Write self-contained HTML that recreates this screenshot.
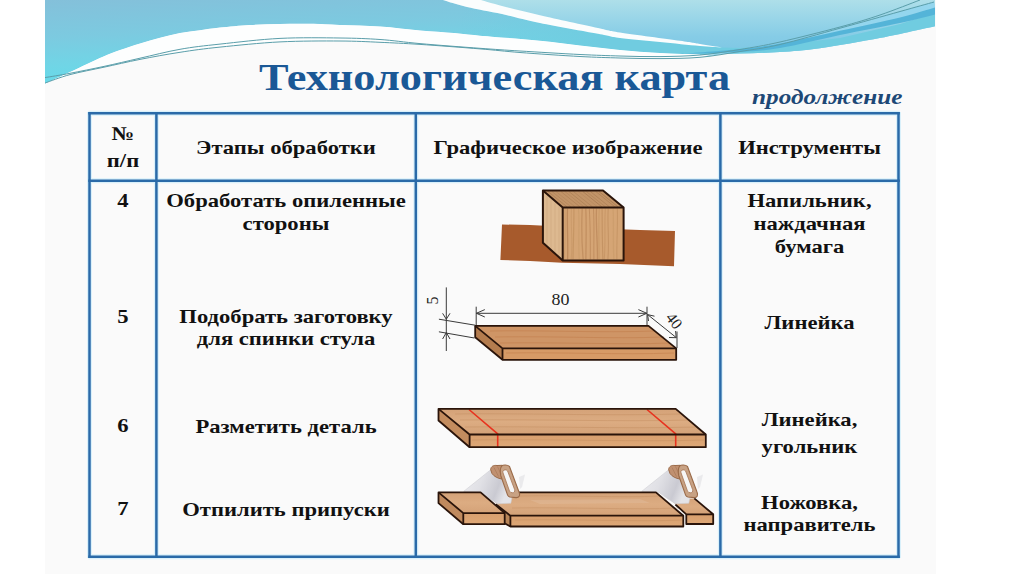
<!DOCTYPE html>
<html><head><meta charset="utf-8">
<style>
html,body{margin:0;padding:0;width:1024px;height:574px;overflow:hidden;background:#fff;}
#slide{position:absolute;left:45px;top:0;width:891px;height:574px;background:#fafafa;}
svg{position:absolute;left:0;top:0;}
.t{position:absolute;font-family:"Liberation Serif",serif;font-weight:bold;font-size:19.5px;line-height:22px;color:#111;text-align:center;white-space:nowrap;transform:scaleX(1.16);transform-origin:50% 0;}
.title{position:absolute;font-family:"Liberation Serif",serif;font-weight:bold;font-size:38.5px;line-height:44px;color:#1a5896;white-space:nowrap;transform:scaleX(1.151);transform-origin:0 0;}
.sub{position:absolute;font-family:"Liberation Serif",serif;font-weight:bold;font-style:italic;font-size:20.5px;line-height:26px;color:#1d4876;white-space:nowrap;transform:scaleX(1.23);transform-origin:0 0;}
</style></head>
<body>
<div id="slide"></div>
<svg width="1024" height="574" viewBox="0 0 1024 574">
  <g id="header">
    <defs>
      <linearGradient id="gA" x1="0" y1="0" x2="0.35" y2="1">
        <stop offset="0" stop-color="#84c0da"/>
        <stop offset="0.4" stop-color="#7ccae0"/>
        <stop offset="0.7" stop-color="#70d5e6"/>
        <stop offset="1" stop-color="#62dcea"/>
      </linearGradient>
      <linearGradient id="gB" gradientUnits="userSpaceOnUse" x1="0" y1="0" x2="0" y2="56">
        <stop offset="0" stop-color="#aedfe9"/>
        <stop offset="0.35" stop-color="#98d5e8"/>
        <stop offset="0.65" stop-color="#86cce6"/>
        <stop offset="1" stop-color="#7cc6e4"/>
      </linearGradient>
      <linearGradient id="gC" gradientUnits="userSpaceOnUse" x1="460" y1="0" x2="600" y2="0">
        <stop offset="0" stop-color="#70cce0" stop-opacity="0"/>
        <stop offset="1" stop-color="#70cce0" stop-opacity="1"/>
      </linearGradient>
    </defs>
    <path fill="url(#gB)" d="M45,0 L935,0 L935,26.2 C926.0,28.1 900.2,34.1 881.0,37.8 C861.8,41.5 836.8,45.8 820.0,48.2 C803.2,50.6 793.3,51.1 780.0,52.0 C766.7,52.9 753.3,53.2 740.0,53.6 C726.7,54.0 713.3,54.5 700.0,54.4 C686.7,54.3 673.3,53.7 660.0,53.0 C646.7,52.3 633.3,51.2 620.0,50.0 C606.7,48.8 593.3,47.0 580.0,45.5 C566.7,44.0 553.2,42.1 540.0,40.8 C526.8,39.4 511.0,38.2 501.0,37.4 C491.0,36.5 487.8,36.4 480.0,35.7 C472.2,35.0 464.0,33.9 454.0,33.0 C444.0,32.1 432.3,31.6 420.0,30.5 C407.7,29.4 393.3,27.3 380.0,26.4 C366.7,25.5 351.7,25.3 340.0,24.9 C328.3,24.5 320.0,24.0 310.0,23.8 C300.0,23.6 290.0,23.7 280.0,23.9 C270.0,24.1 260.0,24.4 250.0,25.0 C240.0,25.6 228.3,26.7 220.0,27.6 C211.7,28.5 206.7,29.3 200.0,30.2 C193.3,31.1 186.7,31.8 180.0,33.1 C173.3,34.4 166.7,36.1 160.0,37.8 C153.3,39.5 146.7,41.5 140.0,43.5 C133.3,45.5 126.0,47.9 120.0,50.0 C114.0,52.1 109.5,53.9 104.0,56.2 C98.5,58.5 92.7,61.4 87.0,64.0 C81.3,66.6 74.8,69.8 70.0,72.0 C65.2,74.2 62.2,75.6 58.0,77.5 C53.8,79.4 47.2,82.5 45.0,83.5 Z"/>
    <path fill="url(#gA)" d="M45,0 L443,0 C447.0,1.2 457.2,4.7 467.0,7.0 C476.8,9.3 489.8,11.4 502.0,14.1 C514.2,16.8 524.0,19.6 540.0,22.9 C556.0,26.2 584.7,31.2 598.0,33.7 C611.3,36.2 609.7,36.6 620.0,38.0 C630.3,39.4 646.7,40.7 660.0,42.0 C673.3,43.3 689.7,45.1 700.0,46.0 C710.3,46.9 718.3,47.2 722.0,47.5 L700,54.4 C693.3,54.2 673.3,53.7 660.0,53.0 C646.7,52.3 633.3,51.2 620.0,50.0 C606.7,48.8 593.3,47.0 580.0,45.5 C566.7,44.0 553.2,42.1 540.0,40.8 C526.8,39.4 511.0,38.2 501.0,37.4 C491.0,36.5 487.8,36.4 480.0,35.7 C472.2,35.0 464.0,33.9 454.0,33.0 C444.0,32.1 432.3,31.6 420.0,30.5 C407.7,29.4 393.3,27.3 380.0,26.4 C366.7,25.5 351.7,25.3 340.0,24.9 C328.3,24.5 320.0,24.0 310.0,23.8 C300.0,23.6 290.0,23.7 280.0,23.9 C270.0,24.1 260.0,24.4 250.0,25.0 C240.0,25.6 228.3,26.7 220.0,27.6 C211.7,28.5 206.7,29.3 200.0,30.2 C193.3,31.1 186.7,31.8 180.0,33.1 C173.3,34.4 166.7,36.1 160.0,37.8 C153.3,39.5 146.7,41.5 140.0,43.5 C133.3,45.5 126.0,47.9 120.0,50.0 C114.0,52.1 109.5,53.9 104.0,56.2 C98.5,58.5 92.7,61.4 87.0,64.0 C81.3,66.6 74.8,69.8 70.0,72.0 C65.2,74.2 62.2,75.6 58.0,77.5 C53.8,79.4 47.2,82.5 45.0,83.5 Z"/>
    <path fill="url(#gC)" d="M467,7 C472.8,8.2 489.8,11.4 502.0,14.1 C514.2,16.8 524.0,19.6 540.0,22.9 C556.0,26.2 584.7,31.2 598.0,33.7 C611.3,36.2 609.7,36.6 620.0,38.0 C630.3,39.4 646.7,40.7 660.0,42.0 C673.3,43.3 689.7,45.1 700.0,46.0 C710.3,46.9 718.3,47.2 722.0,47.5 L740,48 L780,45 L840,38 L900,24 L935,13 L935,26.2 C926.0,28.1 900.2,34.1 881.0,37.8 C861.8,41.5 836.8,45.8 820.0,48.2 C803.2,50.6 793.3,51.1 780.0,52.0 C766.7,52.9 753.3,53.2 740.0,53.6 C726.7,54.0 713.3,54.5 700.0,54.4 C686.7,54.3 673.3,53.7 660.0,53.0 C646.7,52.3 633.3,51.2 620.0,50.0 C606.7,48.8 593.3,47.0 580.0,45.5 C566.7,44.0 553.2,42.1 540.0,40.8 C526.8,39.4 511.0,38.2 501.0,37.4 C491.0,36.5 487.8,36.4 480.0,35.7 C472.2,35.0 458.3,33.5 454.0,33.0 Z"/>
    <path fill="#94d6ee" d="M700.0,57.3 C706.7,56.3 726.7,53.6 740.0,51.5 C753.3,49.4 763.3,48.4 780.0,44.5 C796.7,40.6 820.0,33.7 840.0,28.2 C860.0,22.7 884.3,15.9 900.0,11.5 C915.7,7.1 928.3,3.6 934.0,2.0 L935,7.5 C929.2,9.2 915.8,13.5 900.0,17.4 C884.2,21.3 860.0,26.3 840.0,30.7 C820.0,35.0 796.7,40.5 780.0,43.5 C763.3,46.5 753.3,46.7 740.0,49.0 C726.7,51.3 706.7,55.9 700.0,57.3 Z"/>
    <path fill="#54b4d8" d="M680.0,54.0 C690.0,53.2 723.3,50.8 740.0,49.0 C756.7,47.2 763.3,46.5 780.0,43.5 C796.7,40.5 820.0,35.0 840.0,30.7 C860.0,26.3 884.2,21.3 900.0,17.4 C915.8,13.5 929.2,9.2 935.0,7.5 L935,14.5 C929.2,15.9 915.8,19.6 900.0,23.0 C884.2,26.4 860.0,30.8 840.0,35.0 C820.0,39.2 796.7,45.2 780.0,48.0 C763.3,50.8 756.7,51.0 740.0,52.0 C723.3,53.0 690.0,53.7 680.0,54.0 Z"/>
    <path fill="#fbfdfd" d="M481.0,0.0 C484.5,1.0 492.2,3.4 502.0,5.9 C511.8,8.4 524.0,11.5 540.0,15.2 C556.0,18.9 584.7,25.1 598.0,28.0 C611.3,30.9 606.3,30.4 620.0,32.5 C633.7,34.6 666.7,38.9 680.0,40.8 C693.3,42.7 693.0,42.9 700.0,44.0 C707.0,45.1 718.3,46.9 722.0,47.5 L722,47.5 C718.3,47.2 710.3,46.9 700.0,46.0 C689.7,45.1 673.3,43.3 660.0,42.0 C646.7,40.7 630.3,39.4 620.0,38.0 C609.7,36.6 611.3,36.2 598.0,33.7 C584.7,31.2 556.0,26.2 540.0,22.9 C524.0,19.6 514.2,16.8 502.0,14.1 C489.8,11.4 476.8,9.3 467.0,7.0 C457.2,4.7 447.0,1.2 443.0,0.0 Z"/>
    <path fill="#fdfefe" d="M45.0,83.5 C47.2,82.5 53.8,79.4 58.0,77.5 C62.2,75.6 65.2,74.2 70.0,72.0 C74.8,69.8 81.3,66.6 87.0,64.0 C92.7,61.4 98.5,58.5 104.0,56.2 C109.5,53.9 114.0,52.1 120.0,50.0 C126.0,47.9 133.3,45.5 140.0,43.5 C146.7,41.5 153.3,39.5 160.0,37.8 C166.7,36.1 173.3,34.4 180.0,33.1 C186.7,31.8 193.3,31.1 200.0,30.2 C206.7,29.3 211.7,28.5 220.0,27.6 C228.3,26.7 240.0,25.6 250.0,25.0 C260.0,24.4 270.0,24.1 280.0,23.9 C290.0,23.7 300.0,23.6 310.0,23.8 C320.0,24.0 328.3,24.5 340.0,24.9 C351.7,25.3 366.7,25.5 380.0,26.4 C393.3,27.3 407.7,29.4 420.0,30.5 C432.3,31.6 444.0,32.1 454.0,33.0 C464.0,33.9 472.2,35.0 480.0,35.7 C487.8,36.4 491.0,36.5 501.0,37.4 C511.0,38.2 526.8,39.4 540.0,40.8 C553.2,42.1 566.7,44.0 580.0,45.5 C593.3,47.0 606.7,48.8 620.0,50.0 C633.3,51.2 646.7,52.3 660.0,53.0 C673.3,53.7 693.3,54.2 700.0,54.4 L700,58 C693.3,57.5 673.3,58.5 660.0,58.6 C646.7,58.7 633.3,58.4 620.0,58.0 C606.7,57.6 596.7,57.4 580.0,56.5 C563.3,55.6 536.7,53.8 520.0,52.5 C503.3,51.2 496.7,50.2 480.0,48.9 C463.3,47.5 436.7,45.5 420.0,44.4 C403.3,43.3 393.3,42.9 380.0,42.3 C366.7,41.7 356.7,41.1 340.0,41.0 C323.3,40.9 300.0,40.9 280.0,41.9 C260.0,42.9 236.7,45.4 220.0,47.1 C203.3,48.8 193.3,50.2 180.0,52.3 C166.7,54.3 152.7,56.9 140.0,59.4 C127.3,61.9 115.7,64.7 104.0,67.2 C92.3,69.7 79.8,72.0 70.0,74.6 C60.2,77.2 49.2,81.6 45.0,83.0 Z"/>
    <g fill="none" stroke="#5a9eaa" stroke-width="1">
      <path d="M45.0,77.6 C49.2,76.9 60.2,75.2 70.0,73.3 C79.8,71.4 92.3,68.9 104.0,66.4 C115.7,63.9 127.3,61.1 140.0,58.2 C152.7,55.4 166.7,51.6 180.0,49.3 C193.3,46.9 203.3,45.9 220.0,44.1 C236.7,42.3 260.0,39.4 280.0,38.4 C300.0,37.4 323.3,37.8 340.0,38.0 C356.7,38.2 366.7,38.6 380.0,39.5 C393.3,40.4 403.3,42.1 420.0,43.6 C436.7,45.1 463.3,47.1 480.0,48.3 C496.7,49.5 503.3,50.0 520.0,51.0 C536.7,52.0 563.3,53.7 580.0,54.5 C596.7,55.3 606.7,55.6 620.0,56.0 C633.3,56.4 646.7,56.8 660.0,56.6 C673.3,56.4 686.7,56.2 700.0,55.0 C713.3,53.8 726.7,51.7 740.0,49.5 C753.3,47.3 763.3,45.8 780.0,42.0 C796.7,38.2 823.3,31.5 840.0,27.0 C856.7,22.5 866.7,19.5 880.0,15.0 C893.3,10.5 913.3,2.5 920.0,0.0"/>
      <path d="M45.0,83.0 C49.2,81.6 60.2,77.2 70.0,74.6 C79.8,72.0 92.3,69.7 104.0,67.2 C115.7,64.7 127.3,61.9 140.0,59.4 C152.7,56.9 166.7,54.3 180.0,52.3 C193.3,50.2 203.3,48.8 220.0,47.1 C236.7,45.4 260.0,42.9 280.0,41.9 C300.0,40.9 323.3,40.9 340.0,41.0 C356.7,41.1 366.7,41.7 380.0,42.3 C393.3,42.9 403.3,43.3 420.0,44.4 C436.7,45.5 463.3,47.5 480.0,48.9 C496.7,50.2 503.3,51.2 520.0,52.5 C536.7,53.8 563.3,55.6 580.0,56.5 C596.7,57.4 606.7,57.6 620.0,58.0 C633.3,58.4 646.7,58.7 660.0,58.6 C673.3,58.5 686.7,58.5 700.0,57.3 C713.3,56.1 726.7,53.6 740.0,51.5 C753.3,49.4 763.3,48.4 780.0,44.5 C796.7,40.6 820.0,33.7 840.0,28.2 C860.0,22.7 884.3,15.9 900.0,11.5 C915.7,7.1 928.3,3.6 934.0,2.0"/>
    </g>
  </g>
  <g id="halo" stroke="#d6f0fa" stroke-width="5" fill="none" opacity="0.9">
    <line x1="88.3" y1="113.3" x2="899.8" y2="113.3"/>
    <line x1="88.3" y1="556.8" x2="899.8" y2="556.8"/>
    <line x1="89.5" y1="112" x2="89.5" y2="558"/>
    <line x1="898.5" y1="112" x2="898.5" y2="558"/>
    <line x1="156.4" y1="112" x2="156.4" y2="558"/>
    <line x1="415.8" y1="112" x2="415.8" y2="558"/>
    <line x1="720.4" y1="112" x2="720.4" y2="558"/>
    <line x1="88.3" y1="180.7" x2="899.8" y2="180.7"/>
  </g>
  <g id="table" stroke="#2a6aa8" stroke-width="2.5" fill="none">
    <line x1="88.3" y1="113.3" x2="899.8" y2="113.3"/>
    <line x1="88.3" y1="556.8" x2="899.8" y2="556.8"/>
    <line x1="89.5" y1="112" x2="89.5" y2="558"/>
    <line x1="898.5" y1="112" x2="898.5" y2="558"/>
    <line x1="156.4" y1="112" x2="156.4" y2="558"/>
    <line x1="415.8" y1="112" x2="415.8" y2="558"/>
    <line x1="720.4" y1="112" x2="720.4" y2="558"/>
    <line x1="88.3" y1="180.7" x2="899.8" y2="180.7"/>
  </g>
  <g id="pics">
    <defs>
      <linearGradient id="wTop" x1="0" y1="0" x2="0" y2="1">
        <stop offset="0" stop-color="#d4a278"/><stop offset="0.5" stop-color="#dcac82"/><stop offset="1" stop-color="#d4a278"/>
      </linearGradient>
      <linearGradient id="wFront" x1="0" y1="0" x2="0" y2="1">
        <stop offset="0" stop-color="#d89f6e"/><stop offset="1" stop-color="#dea877"/>
      </linearGradient>
      <linearGradient id="cubeF" x1="0" y1="0" x2="1" y2="0">
        <stop offset="0" stop-color="#d6ad7e"/><stop offset="0.3" stop-color="#e0b98a"/><stop offset="0.6" stop-color="#d0a676"/><stop offset="1" stop-color="#dcb485"/>
      </linearGradient>
      <linearGradient id="blade" x1="0" y1="0" x2="1" y2="0.3">
        <stop offset="0" stop-color="#ededf0"/><stop offset="0.45" stop-color="#e0e0e5"/><stop offset="0.8" stop-color="#cacad2"/><stop offset="1" stop-color="#e4e4e8"/>
      </linearGradient>
    </defs>
    <!-- Row 4: cube on strip -->
    <path fill="#a75a2c" d="M502,224.5 L530,225 L560,226.5 L600,228.5 L640,230 L675,231 L674,266.3 L620,264 L562,262.7 L530,261 L500.4,260 Z"/>
    
    <path fill="#c29468" d="M542.9,190.4 L603,190.4 L623.6,207.6 L562.7,207.6 Z"/>
    <path fill="#ddb990" d="M542.9,190.4 L562.7,207.6 L562.7,260.5 L542.9,242.8 Z"/>
    <rect x="562.7" y="207.6" width="60.9" height="52.9" fill="#d5a575"/>
    <g fill="none">
      <path stroke="#c0905e" stroke-width="0.8" opacity="0.58" d="M565.0,208.5 C565.2,225 565.4,240 564.1,259.5"/><path stroke="#b07c4e" stroke-width="1.3" opacity="0.64" d="M567.5,208.5 C566.9,225 568.2,240 567.6,259.5"/><path stroke="#c0905e" stroke-width="0.9" opacity="0.53" d="M571.4,208.5 C570.7,225 572.7,240 571.2,259.5"/><path stroke="#c0905e" stroke-width="1.2" opacity="0.72" d="M573.9,208.5 C574.1,225 573.3,240 573.0,259.5"/><path stroke="#c89a68" stroke-width="1.0" opacity="0.70" d="M578.6,208.5 C579.5,225 578.3,240 579.2,259.5"/><path stroke="#b07c4e" stroke-width="1.3" opacity="0.48" d="M582.2,208.5 C581.5,225 581.4,240 583.2,259.5"/><path stroke="#b07c4e" stroke-width="1.1" opacity="0.60" d="M585.8,208.5 C586.5,225 586.0,240 585.9,259.5"/><path stroke="#b07c4e" stroke-width="0.8" opacity="0.69" d="M589.3,208.5 C590.2,225 590.4,240 590.3,259.5"/><path stroke="#b07c4e" stroke-width="0.7" opacity="0.79" d="M593.5,208.5 C594.3,225 593.7,240 593.9,259.5"/><path stroke="#b07c4e" stroke-width="1.3" opacity="0.55" d="M596.5,208.5 C595.7,225 597.6,240 597.5,259.5"/><path stroke="#c89a68" stroke-width="1.2" opacity="0.76" d="M599.3,208.5 C598.3,225 599.0,240 599.1,259.5"/><path stroke="#b98656" stroke-width="1.1" opacity="0.58" d="M602.1,208.5 C602.2,225 602.2,240 602.9,259.5"/><path stroke="#b98656" stroke-width="0.8" opacity="0.56" d="M605.3,208.5 C604.4,225 605.6,240 604.3,259.5"/><path stroke="#b07c4e" stroke-width="0.9" opacity="0.50" d="M608.2,208.5 C607.3,225 609.3,240 607.9,259.5"/><path stroke="#c89a68" stroke-width="1.3" opacity="0.58" d="M613.1,208.5 C613.9,225 612.8,240 613.9,259.5"/><path stroke="#b07c4e" stroke-width="0.7" opacity="0.60" d="M617.3,208.5 C617.8,225 616.6,240 616.9,259.5"/>
      <path stroke="#9c7048" stroke-width="0.9" opacity="0.51" d="M548.0,191.5 L567.0,206.8"/><path stroke="#b08258" stroke-width="0.9" opacity="0.75" d="M552.0,191.5 L571.0,206.8"/><path stroke="#b08258" stroke-width="0.9" opacity="0.62" d="M556.0,191.5 L575.0,206.8"/><path stroke="#a87a50" stroke-width="0.9" opacity="0.62" d="M560.9,191.5 L579.9,206.8"/><path stroke="#b08258" stroke-width="0.9" opacity="0.64" d="M564.9,191.5 L583.9,206.8"/><path stroke="#9c7048" stroke-width="0.9" opacity="0.50" d="M568.9,191.5 L587.9,206.8"/><path stroke="#9c7048" stroke-width="0.9" opacity="0.42" d="M573.4,191.5 L592.4,206.8"/><path stroke="#b08258" stroke-width="0.9" opacity="0.49" d="M578.4,191.5 L597.4,206.8"/><path stroke="#9c7048" stroke-width="0.9" opacity="0.61" d="M582.8,191.5 L601.8,206.8"/><path stroke="#a87a50" stroke-width="0.9" opacity="0.51" d="M586.3,191.5 L605.3,206.8"/><path stroke="#9c7048" stroke-width="0.9" opacity="0.49" d="M590.4,191.5 L609.4,206.8"/><path stroke="#a87a50" stroke-width="0.9" opacity="0.67" d="M595.8,191.5 L614.8,206.8"/><path stroke="#9c7048" stroke-width="0.9" opacity="0.64" d="M598.9,191.5 L617.9,206.8"/>
      <path stroke="#c8a078" stroke-width="0.8" opacity="0.6" d="M547,196.0 L547,245.4"/><path stroke="#c8a078" stroke-width="0.8" opacity="0.6" d="M551,199.4 L551,249.0"/><path stroke="#c8a078" stroke-width="0.8" opacity="0.6" d="M555,202.9 L555,252.6"/><path stroke="#c8a078" stroke-width="0.8" opacity="0.6" d="M559,206.4 L559,256.1"/>
    </g>
    <g stroke="#2a140a" stroke-width="2" fill="none" stroke-linejoin="round">
      <path d="M542.9,190.4 L603,190.4 L623.6,207.6 L623.6,260.5 L562.7,260.5 L542.9,242.8 Z"/>
      <path d="M542.9,190.4 L562.7,207.6 L623.6,207.6 M562.7,207.6 L562.7,260.5"/>
    </g>

    <!-- Row 5: board with dimensions -->
    <path fill="#cf9566" d="M475.2,325.9 L648.5,325.9 L676.2,348.4 L502.5,348.4 Z"/>
    <rect x="502.5" y="348.4" width="173.7" height="11.4" fill="#d69a66"/>
    <path fill="#b47c4e" d="M475.2,325.9 L502.5,348.4 L502.5,359.8 L475.2,337.2 Z"/>
    <g stroke="#c07a48" stroke-width="0.7" opacity="0.7" fill="none">
      <path d="M490,331 C540,330 600,333 655,331"/><path d="M495,337 C560,336 610,339 664,337"/><path d="M500,343 C560,342 620,345 670,343"/><path d="M506,353 C560,352 620,355 674,353"/>
    </g>
    <g stroke="#2a140a" stroke-width="1.8" fill="none" stroke-linejoin="round">
      <path d="M475.2,325.9 L648.5,325.9 L676.2,348.4 L676.2,359.8 L502.5,359.8 L475.2,337.2 Z"/>
      <path d="M475.2,325.9 L502.5,348.4 L676.2,348.4 M502.5,348.4 L502.5,359.8"/>
    </g>
    <g stroke="#3a3a3a" stroke-width="1" fill="none">
      <path d="M476.2,306.7 L476.2,325"/><path d="M647,306.7 L647,325"/>
      <path d="M476.2,313.3 L647,313.3"/>
      <path d="M484.8,309.6 L476.4,313.3 L484.8,317"/><path d="M638.4,309.6 L646.8,313.3 L638.4,317"/>
      <path d="M446.3,287.4 L446.3,351"/>
      <path d="M438.9,319.2 L475.2,325.2"/><path d="M438.9,331.8 L474.4,338"/>
      <path d="M442.6,313.3 L446.3,319.2 L450,313.3"/><path d="M442.6,339 L446.3,332.6 L450,339"/>
      <path d="M647.4,314.4 L676.4,337.7"/><path d="M677,331.5 L677,348"/>
      <path d="M648.5,321 L647.6,314.6 L654.5,316.2"/><path d="M669,337.5 L676.2,337.7 L675.6,331"/>
    </g>
    <text x="560.5" y="305" font-family="Liberation Serif" font-size="16" fill="#1e1e1e" text-anchor="middle" transform="translate(560.5,0) scale(1.12,1) translate(-560.5,0)">80</text>
    <text x="0" y="0" font-family="Liberation Serif" font-size="16" fill="#1e1e1e" text-anchor="middle" transform="translate(437.5,300.5) rotate(-90)">5</text>
    <text x="0" y="0" font-family="Liberation Serif" font-size="16" fill="#1e1e1e" text-anchor="middle" transform="translate(670,324) rotate(52)">40</text>

    <!-- Row 6: board with red marks -->
    <path fill="url(#wTop)" d="M438.5,408.9 L675.7,408.9 L705.8,434.5 L469.6,434.5 Z"/>
    <rect x="469.6" y="434.5" width="236.2" height="12.7" fill="url(#wFront)"/>
    <path fill="#c38c5e" d="M438.5,408.9 L469.6,434.5 L469.6,447.2 L438.5,420.5 Z"/>
    <g stroke="#c08a5c" stroke-width="0.7" opacity="0.6" fill="none">
      <path d="M455,414 C520,413 600,416 680,414"/><path d="M460,420 C540,419 620,422 690,420"/><path d="M465,427 C540,426 620,429 698,427"/><path d="M472,440 C560,439 640,442 704,440"/>
    </g>
    <g stroke="#e8321e" stroke-width="1.6" fill="none">
      <path d="M469,409.5 L497.7,433.8 L497.7,447"/><path d="M647,409.5 L675.7,433.8 L675.7,447"/>
    </g>
    <g stroke="#2a140a" stroke-width="1.8" fill="none" stroke-linejoin="round">
      <path d="M438.5,408.9 L675.7,408.9 L705.8,434.5 L705.8,447.2 L469.6,447.2 L438.5,420.5 Z"/>
      <path d="M438.5,408.9 L469.6,434.5 L705.8,434.5 M469.6,434.5 L469.6,447.2"/>
    </g>

    <!-- Row 7: cut pieces with saws -->
    <!-- right piece -->
    <path fill="url(#wTop)" d="M669.3,498.4 L694.3,498.4 L713.2,514.3 L686.3,514.3 Z"/>
    <rect x="686.3" y="514.3" width="26.9" height="9.7" fill="url(#wFront)"/>
    <g stroke="#2a140a" stroke-width="1.8" fill="none" stroke-linejoin="round">
      <path d="M694.3,498.4 L713.2,514.3 L713.2,524 L686.3,524 L686.3,514.3 L713.2,514.3 M686.3,514.3 L675.4,504.5"/>
    </g>
    <path fill="url(#blade)" stroke="#cfcfd4" stroke-width="0.6" d="M641.7,491.4 L669.6,469.0 L678.0,467.5 L684.0,478.0 L690.0,497.0 L688.8,503.2 L675.5,503.8 L668.0,499.0 L659.0,492.4 Z"/>
    <!-- middle piece -->
    <path fill="url(#wTop)" d="M484,492.4 L655.9,492.4 L683.3,515.7 L510.4,515.7 Z"/>
    <rect x="510.4" y="515.7" width="172.9" height="10.8" fill="url(#wFront)"/>
    <path fill="#b88558" d="M504,512 L510.4,515.7 L510.4,526.5 L504,523 Z"/>
    <path fill="#fff" opacity="0.1" d="M530,500 L640,499 L650,503 L540,504 Z"/>
<g stroke="#c08a5c" stroke-width="0.7" opacity="0.55" fill="none">
      <path d="M520,496 C570,495 620,498 660,496"/><path d="M512,508 C570,507 630,510 678,508"/><path d="M515,520 C580,519 640,522 682,520"/><path d="M445,497 C460,496 470,498 482,497"/><path d="M452,504 C470,503 480,505 492,504"/><path d="M466,519 C480,518 490,520 503,519"/>
    </g>
        <g stroke="#2a140a" stroke-width="1.8" fill="none" stroke-linejoin="round">
      <path d="M519,492.4 L655.9,492.4 L683.3,515.7 L683.3,526.5 L510.4,526.5 L505,523.5"/>
      <path d="M495.9,504.3 L510.4,515.7 L683.3,515.7 M510.4,515.7 L510.4,526.5"/>
    </g>
    <path fill="url(#blade)" stroke="#cfcfd4" stroke-width="0.6" d="M463.7,491.4 L491.6,469.0 L500.0,467.5 L506.0,478.0 L512.0,497.0 L510.8,503.2 L497.5,503.8 L490.0,499.0 L481.0,492.4 Z"/>
    <!-- left piece -->
    <path fill="url(#wTop)" d="M438.5,492.4 L480.6,492.4 L504.7,513.1 L463.3,513.1 Z"/>
    <rect x="463.3" y="513.1" width="41.4" height="11.1" fill="url(#wFront)"/>
    <path fill="#c08a5e" d="M438.5,492.4 L463.3,513.1 L463.3,524.2 L438.5,503.1 Z"/>
    <g stroke="#2a140a" stroke-width="1.8" fill="none" stroke-linejoin="round">
      <path d="M438.5,492.4 L480.6,492.4 L504.7,513.1 L504.7,524.2 L463.3,524.2 L438.5,503.1 Z"/>
      <path d="M438.5,492.4 L463.3,513.1 L504.7,513.1 M463.3,513.1 L463.3,524.2"/>
    </g>
    <path fill="#c09070" stroke="#9a6a48" stroke-width="1" stroke-linejoin="round" d="M490.6,469.5 C491.0,466.0 494.0,465.0 497.0,465.5 L502.0,465.3 L503.5,471.0 L502.0,479.0 C498.0,478.5 494.0,476.5 492.0,473.5 Z"/><path fill="#c8a284" stroke="#9a6a48" stroke-width="1.1" stroke-linejoin="round" d="M501.6,466.0 C503.0,464.6 507.5,464.6 509.4,466.3 L519.0,492.0 C520.5,495.5 519.0,497.8 516.0,497.6 L510.0,497.0 C508.5,496.8 507.9,495.8 507.6,495.1 L500.8,475.7 C500.0,472.0 500.4,468.0 501.6,466.0 Z"/><path fill="#f6f6f6" stroke="#a47454" stroke-width="0.8" d="M503.5,470.5 C504.5,469.6 506.8,469.6 507.6,471.0 L514.6,489.5 C515.2,491.5 514.0,493.0 512.2,492.8 L510.5,492.2 C509.8,491.8 509.4,491.0 509.2,490.2 L503.0,472.8 C502.7,471.8 502.9,471.0 503.5,470.5 Z"/><path fill="none" stroke="#a07050" stroke-width="0.7" opacity="0.7" d="M494.0,467.5 L498.5,476.5 M497.5,466.5 L501.0,474.0"/><path fill="#dcdce0" opacity="0.55" d="M519.0,477.0 L525.0,474.5 L522.0,487.0 L520.0,489.0 Z"/>
    <path fill="#c09070" stroke="#9a6a48" stroke-width="1" stroke-linejoin="round" d="M668.6,469.5 C669.0,466.0 672.0,465.0 675.0,465.5 L680.0,465.3 L681.5,471.0 L680.0,479.0 C676.0,478.5 672.0,476.5 670.0,473.5 Z"/><path fill="#c8a284" stroke="#9a6a48" stroke-width="1.1" stroke-linejoin="round" d="M679.6,466.0 C681.0,464.6 685.5,464.6 687.4,466.3 L697.0,492.0 C698.5,495.5 697.0,497.8 694.0,497.6 L688.0,497.0 C686.5,496.8 685.9,495.8 685.6,495.1 L678.8,475.7 C678.0,472.0 678.4,468.0 679.6,466.0 Z"/><path fill="#f6f6f6" stroke="#a47454" stroke-width="0.8" d="M681.5,470.5 C682.5,469.6 684.8,469.6 685.6,471.0 L692.6,489.5 C693.2,491.5 692.0,493.0 690.2,492.8 L688.5,492.2 C687.8,491.8 687.4,491.0 687.2,490.2 L681.0,472.8 C680.7,471.8 680.9,471.0 681.5,470.5 Z"/><path fill="none" stroke="#a07050" stroke-width="0.7" opacity="0.7" d="M672.0,467.5 L676.5,476.5 M675.5,466.5 L679.0,474.0"/><path fill="#dcdce0" opacity="0.55" d="M697.0,477.0 L703.0,474.5 L700.0,487.0 L698.0,489.0 Z"/>
  </g></svg>
<div class="title" style="left:259px;top:55px">Технологическая карта</div>
<div class="sub" style="left:752px;top:84px">продолжение</div>
<div class="t" style="left:90px;width:66px;top:122.5px">№</div>
<div class="t" style="left:90px;width:66px;top:150.2px">п/п</div>
<div class="t" style="left:157px;width:258px;top:136.8px">Этапы обработки</div>
<div class="t" style="left:416px;width:304px;top:136.8px">Графическое изображение</div>
<div class="t" style="left:721px;width:177px;top:136.8px">Инструменты</div>
<div class="t" style="left:90px;width:66px;top:190px">4</div>
<div class="t" style="left:157px;width:258px;top:190px">Обработать опиленные</div>
<div class="t" style="left:157px;width:258px;top:212.9px">стороны</div>
<div class="t" style="left:721px;width:177px;top:190.3px">Напильник,</div>
<div class="t" style="left:721px;width:177px;top:213.2px">наждачная</div>
<div class="t" style="left:721px;width:177px;top:235.8px">бумага</div>
<div class="t" style="left:90px;width:66px;top:305.7px">5</div>
<div class="t" style="left:157px;width:258px;top:306.2px">Подобрать заготовку</div>
<div class="t" style="left:157px;width:258px;top:328.4px">для спинки стула</div>
<div class="t" style="left:721px;width:177px;top:311.8px">Линейка</div>
<div class="t" style="left:90px;width:66px;top:414.6px">6</div>
<div class="t" style="left:157px;width:258px;top:415.5px">Разметить деталь</div>
<div class="t" style="left:721px;width:177px;top:409px">Линейка,</div>
<div class="t" style="left:721px;width:177px;top:436.2px">угольник</div>
<div class="t" style="left:90px;width:66px;top:498.3px">7</div>
<div class="t" style="left:157px;width:258px;top:498.6px">Отпилить припуски</div>
<div class="t" style="left:721px;width:177px;top:491.5px">Ножовка,</div>
<div class="t" style="left:721px;width:177px;top:514.4px">направитель</div>
</body></html>
